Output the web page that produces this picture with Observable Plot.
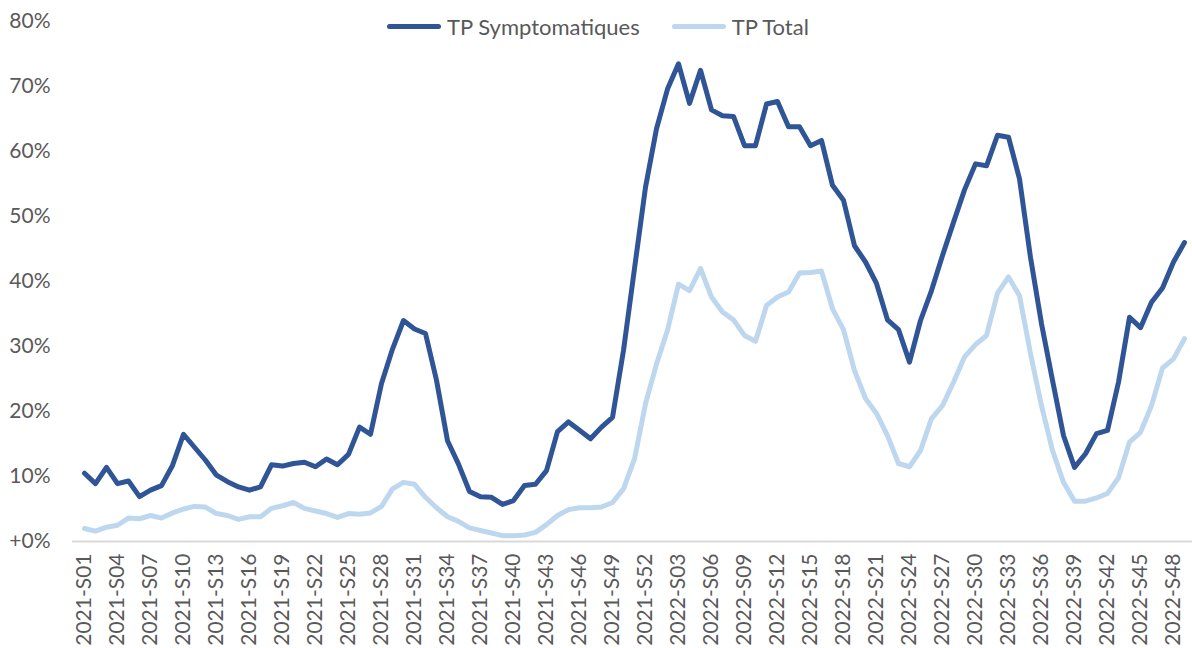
<!DOCTYPE html>
<html><head><meta charset="utf-8">
<script src="https://cdn.jsdelivr.net/npm/d3@7"></script>
<script src="https://cdn.jsdelivr.net/npm/@observablehq/plot@0.6"></script>
<style>
body{margin:0;background:#fff;font-family:Lato,sans-serif;}
#wrap{position:relative;width:1192px;height:648px;overflow:hidden;}
#legend{position:absolute;top:13px;left:387px;display:flex;align-items:center;font-size:22px;color:#595959;white-space:nowrap;}
.item{display:flex;align-items:center;}
.sw{display:inline-block;width:54px;height:5px;border-radius:3px;margin-right:6px;}
</style></head><body><div id="wrap"><div id="legend"></div></div>
<script>
const seriesNames = ["TP Symptomatiques", "TP Total"];
const seriesColors = ["#2F5597", "#BDD7EE"];
const weeks = [
  ...Array.from({length: 52}, (_, i) => `2021-S${String(i + 1).padStart(2, "0")}`),
  ...Array.from({length: 49}, (_, i) => `2022-S${String(i + 1).padStart(2, "0")}`)
];
const symptomatiques = [
  10.5, 8.9, 11.4, 8.9, 9.3, 6.9, 7.9, 8.6, 11.7, 16.5,
  14.5, 12.5, 10.2, 9.2, 8.4, 7.9, 8.4, 11.8, 11.6, 12.0,
  12.2, 11.5, 12.7, 11.8, 13.4, 17.6, 16.5, 24.3, 29.6, 34.0,
  32.7, 32.0, 24.8, 15.5, 11.9, 7.7, 6.9, 6.8, 5.7, 6.3,
  8.6, 8.8, 10.9, 16.9, 18.4, 17.1, 15.8, 17.6, 19.1, 29.4,
  42.0, 54.5, 63.5, 69.6, 73.5, 67.4, 72.5, 66.4, 65.5, 65.4,
  60.9, 60.9, 67.3, 67.7, 63.8, 63.8, 60.9, 61.7, 54.8, 52.5,
  45.5, 43.0, 39.7, 34.1, 32.6, 27.6, 34.0, 38.6, 44.0, 49.1,
  54.1, 58.1, 57.8, 62.5, 62.2, 55.8, 43.7, 33.5, 24.8, 16.3,
  11.4, 13.5, 16.6, 17.1, 24.5, 34.5, 32.9, 36.8, 39.0, 43.0,
  46.0
];
const total = [
  2.0, 1.6, 2.2, 2.5, 3.6, 3.5, 4.0, 3.6, 4.4, 5.0,
  5.4, 5.3, 4.3, 4.0, 3.4, 3.8, 3.8, 5.1, 5.5, 6.0,
  5.1, 4.7, 4.3, 3.7, 4.3, 4.2, 4.4, 5.4, 8.1, 9.1,
  8.8, 6.8, 5.2, 3.8, 3.1, 2.1, 1.7, 1.3, 0.9, 0.9,
  1.0, 1.4, 2.6, 4.0, 4.9, 5.2, 5.2, 5.3, 6.0, 8.1,
  12.7, 21.2, 27.3, 32.5, 39.6, 38.6, 42.0, 37.6, 35.3, 34.1,
  31.7, 30.8, 36.3, 37.6, 38.4, 41.3, 41.4, 41.6, 35.8, 32.6,
  26.3, 22.0, 19.7, 16.3, 12.0, 11.5, 14.0, 18.9, 20.9, 24.5,
  28.4, 30.3, 31.7, 38.2, 40.7, 37.8, 28.9, 20.9, 14.0, 9.1,
  6.2, 6.2, 6.7, 7.4, 9.8, 15.3, 16.8, 20.9, 26.7, 28.1,
  31.2
];
const yTicks = [0, 10, 20, 30, 40, 50, 60, 70, 80];
const xTicks = weeks.filter((w, i) => i % 3 === 0);

const data = [];
weeks.forEach((w, i) => data.push({week: w, serie: seriesNames[0], value: symptomatiques[i]}));
weeks.forEach((w, i) => data.push({week: w, serie: seriesNames[1], value: total[i]}));

const chart = Plot.plot({
  width: 1192, height: 648,
  marginLeft: 72, marginRight: -3, marginTop: 21, marginBottom: 107,
  style: {fontFamily: "Lato, sans-serif", fontSize: "21px", color: "#595959", background: "white"},
  x: {type: "point", domain: weeks, padding: 0.5, ticks: xTicks, tickRotate: -90, tickSize: 0, tickPadding: 12, label: null},
  y: {domain: [0, 80], ticks: yTicks, tickFormat: d => d === 0 ? "+0%" : d + "%", tickSize: 0, tickPadding: 22, label: null},
  color: {domain: seriesNames, range: seriesColors},
  marks: [
    Plot.ruleY([0], {stroke: "#D9D9D9", strokeWidth: 2}),
    Plot.line(data, {x: "week", y: "value", z: "serie", stroke: "serie", strokeWidth: 5, strokeLinejoin: "round", strokeLinecap: "round"})
  ]
});
document.getElementById("wrap").appendChild(chart);

const legend = document.getElementById("legend");
seriesNames.forEach((name, i) => {
  const item = document.createElement("div");
  item.className = "item";
  if (i > 0) item.style.marginLeft = "32px";
  const sw = document.createElement("span");
  sw.className = "sw";
  sw.style.background = seriesColors[i];
  const t = document.createElement("span");
  t.textContent = name;
  item.appendChild(sw); item.appendChild(t);
  legend.appendChild(item);
});
</script></body></html>
